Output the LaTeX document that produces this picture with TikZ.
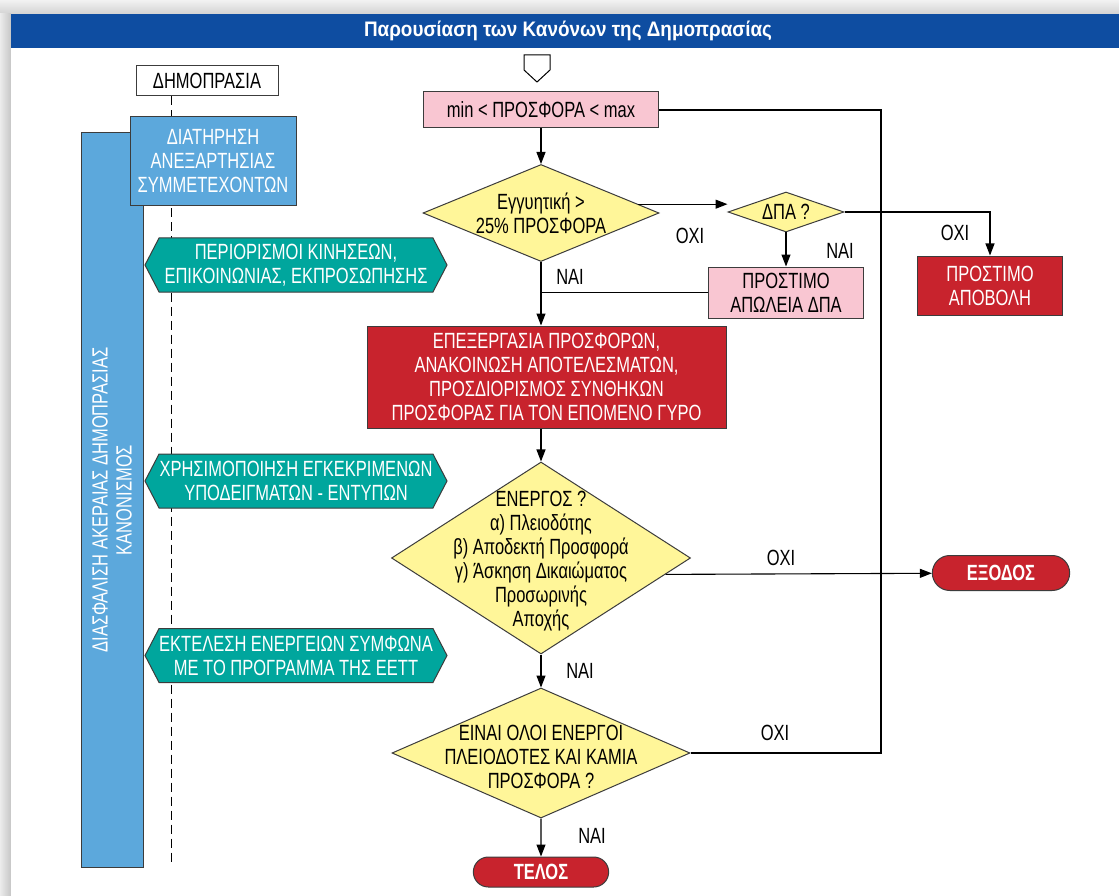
\documentclass[tikz,border=0pt]{standalone}
\usepackage{fontspec}
\setmainfont{Liberation Sans}[FakeStretch=0.75]
\usetikzlibrary{shapes.geometric,shapes.misc,shapes.symbols,arrows.meta,calc}

\definecolor{hdrblue}{RGB}{14,77,161}
\definecolor{ltblue}{RGB}{92,168,220}
\definecolor{notegreen}{RGB}{0,166,157}
\definecolor{condpink}{RGB}{249,198,210}
\definecolor{decyellow}{RGB}{255,246,153}
\definecolor{procred}{RGB}{200,35,45}
\definecolor{edge}{RGB}{60,60,60}

\newcommand{\dfont}{\fontsize{22}{24}\selectfont}

\tikzstyle{box} = [rectangle, draw=edge, line width=1pt, align=center, inner sep=2pt]
\tikzstyle{cond} = [box, fill=condpink]
\tikzstyle{process} = [box, fill=procred, text=white]
\tikzstyle{bluebox} = [box, fill=ltblue, text=white]
\tikzstyle{decision} = [diamond, draw=edge, line width=1pt, fill=decyellow, inner sep=0pt]
\tikzstyle{note} = [signal, signal to=west and east, signal pointer angle=125, draw=edge, line width=1pt, fill=notegreen, text=white, align=center, minimum width=302pt, minimum height=54pt, inner sep=0pt]
\tikzstyle{term} = [rounded rectangle, draw=edge, line width=1pt, fill=procred, text=white, font=\dfont\bfseries]
\tikzstyle{arrow} = [-{Triangle[length=12pt,width=9pt]}, line width=1.1pt]
\tikzstyle{conn} = [line width=1.1pt]
\tikzstyle{lbl} = [inner sep=0pt]

\begin{document}
\begin{tikzpicture}[x=1pt, y=-1pt, font=\dfont]
	\useasboundingbox (0,0) rectangle (1119,896);
	\shade [top color=gray!10, bottom color=gray!35] (0,0) rectangle (1119,14);
	\shade [left color=gray!15, right color=gray!45] (0,14) rectangle (11,896);
	\fill [white] (11,14) rectangle (1119,896);
	\fill [hdrblue] (11,14) rectangle (1119,48);
	\node (title) [text=white, font=\fontsize{21}{24}\selectfont\bfseries\addfontfeatures{FakeStretch=0.9}] at (568,31) {Παρουσίαση των Κανόνων της Δημοπρασίας};

	\node (dem) [box, fill=white, minimum width=142pt, minimum height=30pt] at (207,81) {ΔΗΜΟΠΡΑΣΙΑ};
	\coordinate (lifeend) at (171,864);
	\draw [dash pattern=on 9pt off 5pt, line width=1pt] (dem.south -| lifeend) -- (lifeend);
	\node (bar) [bluebox, rotate=90, minimum width=734pt, minimum height=62pt] at (112,500) {ΔΙΑΣΦΑΛΙΣΗ ΑΚΕΡΑΙΑΣ ΔΗΜΟΠΡΑΣΙΑΣ\\ΚΑΝΟΝΙΣΜΟΣ};
	\node (keep) [bluebox, minimum width=166pt, minimum height=89pt] at (213,161.5) {ΔΙΑΤΗΡΗΣΗ\\ΑΝΕΞΑΡΤΗΣΙΑΣ\\ΣΥΜΜΕΤΕΧΟΝΤΩΝ};
	\node (rule1) [note] at (296,265) {ΠΕΡΙΟΡΙΣΜΟΙ ΚΙΝΗΣΕΩΝ,\\ΕΠΙΚΟΙΝΩΝΙΑΣ, ΕΚΠΡΟΣΩΠΗΣΗΣ};
	\node (rule2) [note] at (296,481) {ΧΡΗΣΙΜΟΠΟΙΗΣΗ ΕΓΚΕΚΡΙΜΕΝΩΝ\\ΥΠΟΔΕΙΓΜΑΤΩΝ - ΕΝΤΥΠΩΝ};
	\node (rule3) [note] at (296,655.5) {ΕΚΤΕΛΕΣΗ ΕΝΕΡΓΕΙΩΝ ΣΥΜΦΩΝΑ\\ΜΕ ΤΟ ΠΡΟΓΡΑΜΜΑ ΤΗΣ ΕΕΤΤ};

	\draw [fill=white, line width=1pt] (524,55) -- (550,55) -- (550,70) -- (537,82) -- (524,70) -- cycle;
	\node (range) [cond, minimum width=235pt, minimum height=36pt] at (541,110) {min < ΠΡΟΣΦΟΡΑ < max};
	\node (guar) [decision, minimum width=236pt, minimum height=97pt, label={[align=center]center:Εγγυητική >\\25\% ΠΡΟΣΦΟΡΑ}] at (541,213) {};
	\node (dpa) [decision, minimum width=116pt, minimum height=40pt, label=center:ΔΠΑ ?] at (786,212) {};
	\node (fine1) [cond, minimum width=155pt, minimum height=51pt] at (786,292.5) {ΠΡΟΣΤΙΜΟ\\ΑΠΩΛΕΙΑ ΔΠΑ};
	\node (fine2) [process, minimum width=145pt, minimum height=59pt] at (990,285.5) {ΠΡΟΣΤΙΜΟ\\ΑΠΟΒΟΛΗ};
	\node (proc) [process, minimum width=359pt, minimum height=102pt] at (546.5,377) {ΕΠΕΞΕΡΓΑΣΙΑ ΠΡΟΣΦΟΡΩΝ,\\ΑΝΑΚΟΙΝΩΣΗ ΑΠΟΤΕΛΕΣΜΑΤΩΝ,\\ΠΡΟΣΔΙΟΡΙΣΜΟΣ ΣΥΝΘΗΚΩΝ\\ΠΡΟΣΦΟΡΑΣ ΓΙΑ ΤΟΝ ΕΠΟΜΕΝΟ ΓΥΡΟ};
	\node (act) [decision, minimum width=299pt, minimum height=192pt, label={[align=center, yshift=-3pt]center:ΕΝΕΡΓΟΣ ?\\α) Πλειοδότης\\β) Αποδεκτή Προσφορά\\γ) Άσκηση Δικαιώματος\\Προσωρινής\\Αποχής}] at (541,558) {};
	\node (allin) [decision, minimum width=298pt, minimum height=130pt, label={[align=center, yshift=-4pt]center:ΕΙΝΑΙ ΟΛΟΙ ΕΝΕΡΓΟΙ\\ΠΛΕΙΟΔΟΤΕΣ ΚΑΙ ΚΑΜΙΑ\\ΠΡΟΣΦΟΡΑ ?}] at (541,753) {};
	\node (exit) [term, minimum width=144pt, minimum height=35pt] at (1001,573) {ΕΞΟΔΟΣ};
	\node (end) [term, minimum width=142pt, minimum height=30pt] at (541,872) {ΤΕΛΟΣ};
	\coordinate (loop) at (881,110);
	\coordinate (guarout) at ($(guar.east)!0.18!(guar.north)$);

	\draw [arrow] (range) -- (guar);
	\draw [arrow] (guarout) -- (guarout -| dpa.west);
	\draw [arrow] (dpa) -| (fine2);
	\draw [arrow] (dpa) -- (fine1);
	\draw [arrow] (guar) -- (guar |- proc.north);
	\draw [conn] (fine1.west) -- (fine1.west -| guar);
	\draw [arrow] (act |- proc.south) -- (act);
	\draw [arrow] ($(act.east)!0.17!(act.south)$) -- (exit);
	\draw [arrow] (act) -- (allin);
	\draw [arrow] (allin) -- (end);
	\draw [conn] (allin.east) -| (loop) -- (range.east);

	\node (no1) [lbl] at (690,236) {ΟΧΙ};
	\node (yes1) [lbl] at (570,277) {ΝΑΙ};
	\node (yes2) [lbl] at (840,251) {ΝΑΙ};
	\node (no2) [lbl] at (955,233) {ΟΧΙ};
	\node (no3) [lbl] at (781,558) {ΟΧΙ};
	\node (yes3) [lbl] at (580,671) {ΝΑΙ};
	\node (no4) [lbl] at (775,733) {ΟΧΙ};
	\node (yes4) [lbl] at (592,836) {ΝΑΙ};
\end{tikzpicture}
\end{document}
